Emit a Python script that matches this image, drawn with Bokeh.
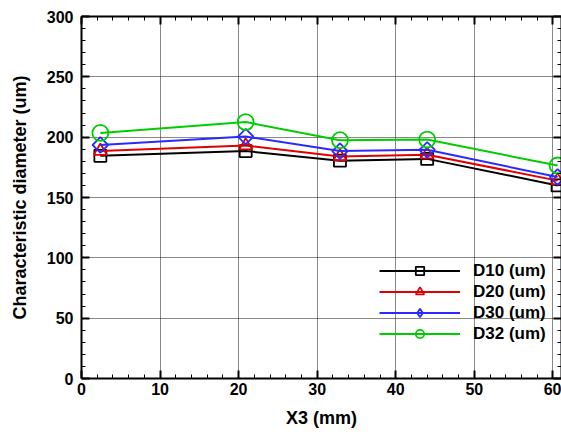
from bokeh.plotting import figure
from bokeh.models import (LinearAxis, Legend, LegendItem, Range1d,
                          SingleIntervalTicker, CustomJSTickFormatter)
from bokeh.embed import file_html
from bokeh.resources import INLINE
import math

# ---- data ----
x_mm = [2.4, 20.9, 32.9, 44.0, 60.6]
d10 = [184.5, 188.5, 180.5, 182.0, 160.0]
d20 = [188.5, 193.0, 184.0, 185.5, 164.0]
d30 = [193.5, 200.5, 188.5, 189.5, 167.0]
d32 = [203.5, 212.5, 197.5, 198.0, 176.5]
series_names = ["D10 (um)", "D20 (um)", "D30 (um)", "D32 (um)"]
x_label = "X3 (mm)"
y_label = "Characteristic diameter (um)"

FONT = "Liberation Sans"

p = figure(width=561, height=435, output_backend="svg", toolbar_location=None,
           x_range=Range1d(0, 61.1), y_range=Range1d(0, 300),
           min_border_left=81, min_border_right=0, min_border_top=16,
           min_border_bottom=57, x_axis_location=None, y_axis_location=None)
p.outline_line_color = None
p.background_fill_color = "white"
p.border_fill_color = "white"

xt = SingleIntervalTicker(interval=10, num_minor_ticks=5)
yt = SingleIntervalTicker(interval=50, num_minor_ticks=5)
blank = CustomJSTickFormatter(code="return '';")


def style(ax, labels=True):
    ax.axis_line_width = 2
    ax.axis_line_color = "black"
    ax.major_tick_in = 8
    ax.major_tick_out = 0
    ax.minor_tick_in = 4
    ax.minor_tick_out = 0
    ax.major_tick_line_width = 2
    ax.minor_tick_line_width = 1
    ax.major_tick_line_color = "black"
    ax.minor_tick_line_color = "black"
    ax.major_label_text_font = FONT
    ax.major_label_text_font_style = "bold"
    ax.major_label_text_color = "black"
    ax.major_label_text_font_size = "16px"
    ax.axis_label_text_font = FONT
    ax.axis_label_text_font_style = "bold"
    ax.axis_label_text_color = "black"
    ax.axis_label_text_font_size = "18px"
    if not labels:
        ax.formatter = blank
        ax.major_label_standoff = 0


bottom = LinearAxis(ticker=xt, axis_label=x_label)
style(bottom)
bottom.major_label_standoff = 4
bottom.axis_label_standoff = 10
left = LinearAxis(ticker=yt, axis_label=y_label)
style(left)
left.major_label_standoff = 8
left.axis_label_standoff = 14
top = LinearAxis(ticker=xt)
style(top, labels=False)
right = LinearAxis(ticker=yt)
style(right, labels=False)
p.add_layout(bottom, "below")
p.add_layout(left, "left")
p.add_layout(top, "above")
p.add_layout(right, "right")

p.xgrid.ticker = xt
p.ygrid.ticker = yt
for g in (p.xgrid, p.ygrid):
    g.grid_line_color = "#111111"
    g.grid_line_dash = "1 1"
    g.grid_line_width = 1

colors = ["#000000", "#e00000", "#2a2aff", "#00cc00"]
datas = [d10, d20, d30, d32]
markers = ["square", "triangle", "square", "circle"]
legend_markers = ["square", "triangle", "diamond", "circle"]
sizes = [12, 13, 11, 16]
angles = [0, 0, math.pi / 4, 0]

items = []
for name, ys, c, m, lm, s, a in zip(series_names, datas, colors, markers,
                                    legend_markers, sizes, angles):
    ln = p.line(x_mm, ys, line_color=c, line_width=2)
    sc = p.scatter(x_mm, ys, marker=m, size=s, angle=a, line_color=c,
                   fill_color=None, line_width=1.8)
    if lm != m:
        # legend-only marker shape (Bokeh legends ignore marker angle)
        sc = p.scatter(x_mm, ys, marker=lm, size=0, line_color=c,
                       fill_color=None, line_width=1.8)
    items.append(LegendItem(label=name, renderers=[ln, sc]))

legend = Legend(items=items, location=(298, 34), orientation="vertical",
                glyph_width=81, glyph_height=21, label_height=21,
                label_standoff=13, spacing=0, padding=0, margin=0,
                border_line_color=None, background_fill_alpha=0,
                label_text_font=FONT, label_text_font_style="bold",
                label_text_font_size="17px", label_text_color="black")
p.add_layout(legend, "center")

open("out.html", "w").write(file_html(p, INLINE))
